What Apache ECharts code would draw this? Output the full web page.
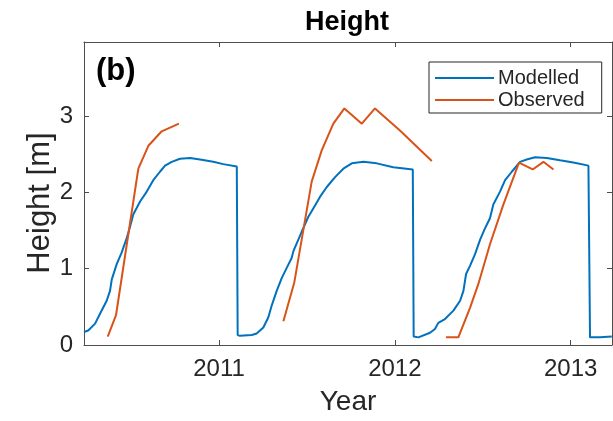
<!DOCTYPE html>
<html>
<head>
<meta charset="utf-8">
<script src="https://cdn.jsdelivr.net/npm/echarts@6/dist/echarts.min.js"></script>
<style>html,body{margin:0;padding:0;background:#fff}#c{width:613px;height:421px}</style>
</head>
<body>
<div id="c"></div>
<script>
// ---- data (decimal year, height in m) ----
const modYears = [2010.232,2010.256,2010.295,2010.323,2010.361,2010.380,2010.390,2010.418,2010.446,2010.475,2010.494,2010.512,2010.551,2010.589,2010.626,2010.664,2010.693,2010.731,2010.778,2010.835,2010.892,2010.967,2011.024,2011.101,2011.106,2011.119,2011.186,2011.214,2011.252,2011.280,2011.300,2011.328,2011.357,2011.385,2011.413,2011.423,2011.451,2011.479,2011.508,2011.536,2011.574,2011.613,2011.660,2011.707,2011.755,2011.821,2011.897,2011.991,2012.102,2012.107,2012.134,2012.200,2012.228,2012.247,2012.285,2012.333,2012.371,2012.390,2012.405,2012.428,2012.456,2012.485,2012.513,2012.541,2012.560,2012.598,2012.627,2012.665,2012.712,2012.750,2012.797,2012.864,2012.939,2013.015,2013.101,2013.110,2013.167,2013.234];
const modHeight = [0.17,0.19,0.28,0.41,0.58,0.71,0.86,1.06,1.21,1.40,1.55,1.71,1.88,2.01,2.16,2.27,2.35,2.40,2.44,2.45,2.43,2.40,2.37,2.34,0.13,0.12,0.13,0.15,0.23,0.36,0.52,0.71,0.88,1.01,1.14,1.23,1.38,1.53,1.68,1.79,1.94,2.07,2.20,2.31,2.38,2.40,2.38,2.33,2.30,0.11,0.10,0.16,0.21,0.29,0.34,0.45,0.58,0.71,0.93,1.04,1.19,1.38,1.53,1.66,1.84,2.01,2.16,2.27,2.40,2.43,2.46,2.45,2.42,2.39,2.35,0.10,0.10,0.11];
const obsYears1 = [2010.367,2010.414,2010.541,2010.598,2010.674,2010.772];
const obsHeight1 = [0.11,0.39,2.31,2.61,2.80,2.90];
const obsYears2 = [2011.366,2011.428,2011.527,2011.584,2011.650,2011.713,2011.812,2011.887,2012.029,2012.210];
const obsHeight2 = [0.31,0.82,2.14,2.55,2.90,3.10,2.90,3.10,2.81,2.41];
const obsYears3 = [2012.291,2012.361,2012.428,2012.475,2012.541,2012.617,2012.706,2012.784,2012.845,2012.902];
const obsHeight3 = [0.10,0.10,0.49,0.80,1.32,1.84,2.39,2.30,2.40,2.30];
const xTicks = [2011, 2012, 2013];
const yTicks = [0, 1, 2, 3];
const xRange = [2010.232, 2013.235];
const yRange = [0, 3.97];

const zip = (a, b) => a.map((v, i) => [v, b[i]]);
const AX = '#4d4d4d', TX = '#262626';
const FONT = 'Liberation Sans, Arial, Helvetica, sans-serif';
const blue = '#0072BD', orange = '#D95319';

function xAxisCfg(pos, labels) {
  return {
    type: 'value', position: pos, min: xRange[0], max: xRange[1],
    axisLine: { show: true, onZero: false, lineStyle: { color: AX, width: 1 } },
    axisTick: { show: true, inside: true, length: 5, customValues: xTicks, lineStyle: { color: AX } },
    axisLabel: { show: labels, customValues: xTicks, margin: 12, color: TX, fontSize: 24, fontFamily: FONT,
                 formatter: v => String(Math.round(v)) },
    splitLine: { show: false }
  };
}
function yAxisCfg(pos, labels) {
  return {
    type: 'value', position: pos, min: yRange[0], max: yRange[1],
    axisLine: { show: true, onZero: false, lineStyle: { color: AX, width: 1 } },
    axisTick: { show: true, inside: true, length: 5, customValues: yTicks, lineStyle: { color: AX } },
    axisLabel: { show: labels, customValues: yTicks, margin: 11, color: TX, fontSize: 24, fontFamily: FONT },
    splitLine: { show: false }
  };
}

const xa0 = xAxisCfg('bottom', true);
xa0.name = 'Year'; xa0.nameLocation = 'middle'; xa0.nameGap = 43;
xa0.nameTextStyle = { color: TX, fontSize: 28, fontFamily: FONT };
const ya0 = yAxisCfg('left', true);

const lineSeries = (name, data, color) => ({
  name, type: 'line', data, xAxisIndex: 0, yAxisIndex: 0,
  showSymbol: false, symbol: 'none', smooth: false,
  lineStyle: { color, width: 2 }, itemStyle: { color },
  emphasis: { disabled: true }, animation: false
});

const chart = echarts.init(document.getElementById('c'), null, { renderer: 'canvas' });
chart.setOption({
  backgroundColor: '#fff',
  animation: false,
  title: {
    text: 'Height', left: 342, top: 4, textAlign: 'center',
    textStyle: { color: '#000', fontSize: 27, fontWeight: 'bold', fontFamily: FONT }
  },
  grid: { left: 84, right: 1, top: 42, bottom: 73, containLabel: false },
  legend: {
    orient: 'vertical', left: 429, top: 62,
    data: ['Modelled', 'Observed'],
    icon: 'rect', itemWidth: 59, itemHeight: 2, itemGap: 0,
    padding: [5, 17, 2, 6],
    borderColor: '#262626', borderWidth: 1, backgroundColor: '#fff',
    textStyle: { color: TX, fontSize: 20, lineHeight: 22, fontFamily: FONT, padding: [0, 0, 0, -1] }
  },
  graphic: [{
    type: 'text', left: 96, top: 56,
    style: { text: '(b)', fontSize: 31, fontWeight: 'bold', fill: '#000', fontFamily: FONT }
  }, {
    type: 'text', x: 40, y: 203, rotation: Math.PI / 2,
    style: { text: 'Height [m]', fontSize: 31, fill: TX, fontFamily: FONT,
             align: 'center', verticalAlign: 'middle' }
  }],
  xAxis: [xa0, xAxisCfg('top', false)],
  yAxis: [ya0, yAxisCfg('right', false)],
  series: [
    lineSeries('Modelled', zip(modYears, modHeight), blue),
    lineSeries('Observed', zip(obsYears1, obsHeight1), orange),
    lineSeries('Observed', zip(obsYears2, obsHeight2), orange),
    lineSeries('Observed', zip(obsYears3, obsHeight3), orange)
  ]
});
</script>
</body>
</html>
